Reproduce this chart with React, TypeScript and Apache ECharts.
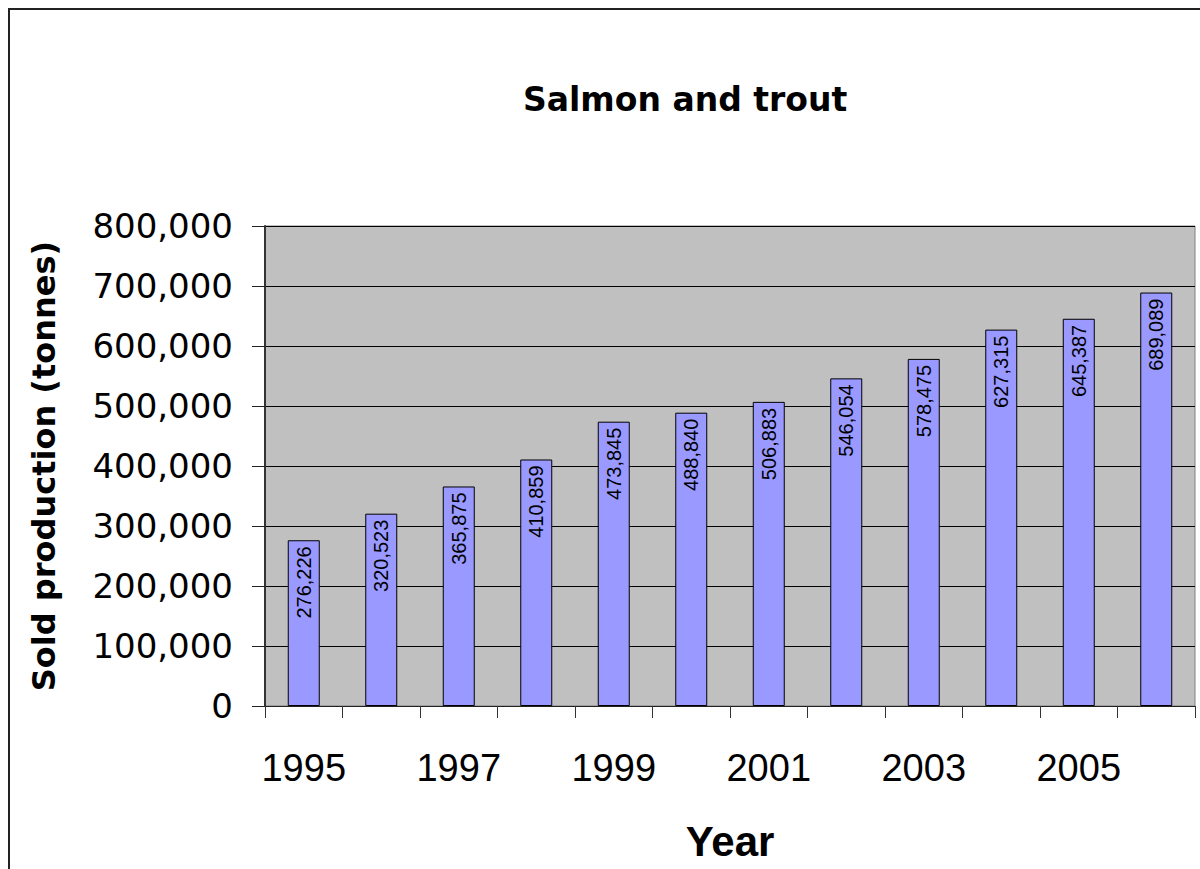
import React, { useEffect, useRef } from "react";
import * as echarts from "echarts";

const years = ["1995", "1996", "1997", "1998", "1999", "2000", "2001", "2002", "2003", "2004", "2005", "2006"];
const production = [276226, 320523, 365875, 410859, 473845, 488840, 506883, 546054, 578475, 627315, 645387, 689089];
const yTicks = { min: 0, max: 800000, interval: 100000 };
const titleText = "Salmon and trout";
const yName = "Sold production (tonnes)";
const xName = "Year";

const fmt = (v: number) => Number(v).toLocaleString("en-US");

export default function App() {
  const ref = useRef<HTMLDivElement>(null);
  useEffect(() => {
    if (!ref.current) return;
    const chart = echarts.init(ref.current, null, { renderer: "svg" });
    chart.setOption({
      animation: false,
      backgroundColor: "#ffffff",
      title: {
        text: titleText,
        left: 518,
        top: 78,
        textStyle: { fontFamily: "DejaVu Sans", fontWeight: "bold", fontSize: 33, color: "#000" },
      },
      graphic: [
        {
          type: "rect",
          shape: { x: 9, y: 9, width: 1400, height: 1000 },
          style: { fill: "none", stroke: "#222", lineWidth: 2 },
          silent: true,
        },
      ],
      grid: {
        left: 265,
        top: 226,
        width: 930,
        height: 480,
        show: true,
        backgroundColor: "#C0C0C0",
        borderColor: "#808080",
        borderWidth: 1,
      },
      xAxis: {
        type: "category",
        data: years,
        boundaryGap: true,
        name: xName,
        nameLocation: "middle",
        nameGap: 114,
        nameTextStyle: { fontFamily: "Liberation Sans", fontWeight: "bold", fontSize: 42, color: "#000" },
        axisLine: { lineStyle: { color: "#222", width: 1 } },
        axisTick: { show: true, interval: 0, alignWithLabel: false, length: 12, lineStyle: { color: "#333" } },
        axisLabel: {
          interval: 1,
          margin: 43,
          fontFamily: "Liberation Sans",
          fontSize: 38,
          color: "#000",
        },
      },
      yAxis: {
        type: "value",
        min: yTicks.min,
        max: yTicks.max,
        interval: yTicks.interval,
        name: yName,
        nameLocation: "middle",
        nameRotate: 90,
        nameGap: 205,
        nameTextStyle: { fontFamily: "DejaVu Sans", fontWeight: "bold", fontSize: 32, color: "#000" },
        axisLine: { show: true, lineStyle: { color: "#333", width: 2 } },
        axisTick: { show: true, length: 13, lineStyle: { color: "#222" } },
        axisLabel: {
          margin: 32,
          fontFamily: "DejaVu Sans",
          fontSize: 34,
          color: "#000",
          formatter: (v: number) => fmt(v),
        },
        splitLine: { show: true, lineStyle: { color: "#000", width: 1 } },
      },
      series: [
        {
          type: "bar",
          data: production,
          barWidth: 32,
          itemStyle: { color: "#9999FF", borderColor: "#000", borderWidth: 1 },
          label: {
            show: true,
            position: "insideTop",
            rotate: 90,
            align: "right",
            verticalAlign: "middle",
            distance: 6,
            fontFamily: "Liberation Sans",
            fontSize: 20,
            color: "#000",
            formatter: (p: any) => fmt(p.value),
          },
        },
      ],
    });
    return () => chart.dispose();
  }, []);
  return (
    <div
      ref={ref}
      style={{ position: "fixed", left: 0, top: 0, width: 1200, height: 869 }}
    />
  );
}
